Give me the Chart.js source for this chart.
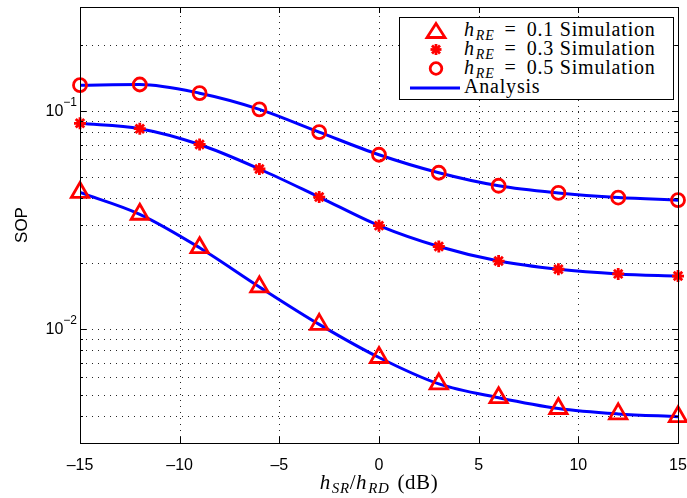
<!DOCTYPE html>
<html>
<head>
<meta charset="utf-8">
<script src="https://cdn.jsdelivr.net/npm/chart.js@4/dist/chart.umd.min.js"></script>
<style>
  body { margin: 0; background: #fff; }
  #wrap { position: relative; width: 687px; height: 498px; }
  .legend {
    position: absolute; left: 399px; top: 17px; width: 275px; height: 83px;
    border: 1px solid #000; background: #fff; box-sizing: border-box;
    font-family: "Liberation Serif", "DejaVu Serif", serif; font-size: 20px; color: #000;
  }
  .row { position: absolute; left: 0; height: 19px; line-height: 19px; width: 100%; }
  .row svg { position: absolute; left: 8px; top: 0; }
  .row span.txt { position: absolute; left: 64px; top: -1px; white-space: nowrap; letter-spacing: 0.8px; }
  .math i { font-style: italic; }
  .math sub { font-size: 14px; font-style: italic; vertical-align: -4px; line-height: 0; padding-left: 1px; }
  .math .op { margin: 0 10px 0 10px; }
  .xtitle {
    position: absolute; left: 80px; width: 598px; top: 470px; text-align: center;
    font-family: "Liberation Serif", "DejaVu Serif", serif; font-size: 21px; letter-spacing: 0.6px;
  }
  .xtitle sub { font-size: 15px; }
  .xtitle .gap { margin-left: 8px; }
</style>
</head>
<body>
<div id="wrap">
  <canvas id="sop-chart" width="687" height="498"></canvas>
  <div class="legend">
    <div class="row" style="top:3px">
      <svg width="56" height="19"><polygon points="28,2.5 37,16.5 19,16.5" fill="none" stroke="#ff0000" stroke-width="2.8"/></svg>
      <span class="txt math"><i>h</i><sub>RE</sub><span class="op">=</span>0.1 Simulation</span>
    </div>
    <div class="row" style="top:22px">
      <svg width="56" height="19"><g stroke="#ff0000" stroke-width="2.8"><line x1="22.5" y1="9.5" x2="33.5" y2="9.5"/><line x1="28" y1="4" x2="28" y2="15"/><line x1="24" y1="5.5" x2="32" y2="13.5"/><line x1="24" y1="13.5" x2="32" y2="5.5"/></g></svg>
      <span class="txt math"><i>h</i><sub>RE</sub><span class="op">=</span>0.3 Simulation</span>
    </div>
    <div class="row" style="top:41px">
      <svg width="56" height="19"><circle cx="28" cy="9.5" r="5.8" fill="none" stroke="#ff0000" stroke-width="2.8"/></svg>
      <span class="txt math"><i>h</i><sub>RE</sub><span class="op">=</span>0.5 Simulation</span>
    </div>
    <div class="row" style="top:60px">
      <svg width="56" height="19"><line x1="2" y1="10" x2="52" y2="10" stroke="#0000ff" stroke-width="3"/></svg>
      <span class="txt">Analysis</span>
    </div>
  </div>
  <div class="xtitle math"><i>h</i><sub>SR</sub>/<i>h</i><sub>RD</sub><span class="gap">(dB)</span></div>
</div>
<script>
"use strict";

// valeurs
const xValues = [-15, -12, -9, -6, -3, 0, 3, 6, 9, 12, 15];
const sopRe01 = [0.0423, 0.0336, 0.0236, 0.0156, 0.0105, 0.0074, 0.0056, 0.00484, 0.00432, 0.00408, 0.00396];
const sopRe03 = [0.0878, 0.083, 0.0702, 0.0542, 0.0403, 0.0298, 0.0239, 0.0205, 0.0188, 0.0179, 0.0175];
const sopRe05 = [0.1314, 0.1323, 0.1207, 0.1018, 0.08, 0.063, 0.0521, 0.0454, 0.0421, 0.0401, 0.039];

const xTicks = [-15, -10, -5, 0, 5, 10, 15];
const yTicks = [0.003, 0.004, 0.005, 0.006, 0.007, 0.008, 0.009,
  0.01, 0.02, 0.03, 0.04, 0.05, 0.06, 0.07, 0.08, 0.09, 0.1, 0.2, 0.3];
const yMajor = { 0.01: "\u22122", 0.1: "\u22121" };

const RED = "#ff0000";
const BLUE = "#0000ff";
const SANS = "'Liberation Sans', Arial, sans-serif";

function points(ys) {
  return xValues.map((x, i) => ({ x: x, y: ys[i] }));
}

function markers(ys, style, radius) {
  return {
    data: points(ys),
    showLine: false,
    clip: false,
    pointStyle: style,
    pointRadius: radius,
    pointBorderColor: RED,
    pointBackgroundColor: "rgba(0,0,0,0)",
    pointBorderWidth: 2.8,
  };
}

function analysis(ys) {
  return {
    data: points(ys),
    borderColor: BLUE,
    borderWidth: 3,
    pointRadius: 0,
    cubicInterpolationMode: "monotone",
  };
}

// grille pointillée (style matlab)
const gridPlugin = {
  id: "dotGrid",
  beforeDatasetsDraw(chart) {
    const { ctx, chartArea: a, scales } = chart;
    ctx.save();
    ctx.strokeStyle = "rgba(0,0,0,0.85)";
    ctx.lineWidth = 1;
    ctx.setLineDash([1, 5]);
    ctx.beginPath();
    xTicks.slice(1, -1).forEach((v) => {
      const px = Math.round(scales.x.getPixelForValue(v)) + 0.5;
      ctx.moveTo(px, a.bottom); ctx.lineTo(px, a.top);
    });
    yTicks.slice(1, -1).forEach((v) => {
      const py = Math.round(scales.y.getPixelForValue(v)) + 0.5;
      ctx.moveTo(a.left, py); ctx.lineTo(a.right, py);
    });
    ctx.stroke();
    ctx.restore();
  },
};

// cadre, graduations vers l'intérieur et étiquettes 10^n
const framePlugin = {
  id: "frame",
  afterDraw(chart) {
    const { ctx, chartArea: a, scales } = chart;
    ctx.save();
    ctx.strokeStyle = "#000";
    ctx.lineWidth = 1;
    ctx.beginPath();
    xTicks.forEach((v) => {
      const px = Math.round(scales.x.getPixelForValue(v)) + 0.5;
      ctx.moveTo(px, a.bottom); ctx.lineTo(px, a.bottom - 6);
      ctx.moveTo(px, a.top); ctx.lineTo(px, a.top + 6);
    });
    yTicks.forEach((v) => {
      const py = Math.round(scales.y.getPixelForValue(v)) + 0.5;
      const len = yMajor[v] ? 6 : 3;
      ctx.moveTo(a.left, py); ctx.lineTo(a.left + len, py);
      ctx.moveTo(a.right, py); ctx.lineTo(a.right - len, py);
    });
    ctx.stroke();
    ctx.strokeRect(Math.round(a.left) + 0.5, Math.round(a.top) + 0.5,
      Math.round(a.right - a.left), Math.round(a.bottom - a.top));

    ctx.fillStyle = "#000";
    ctx.textBaseline = "middle";
    ctx.textAlign = "right";
    Object.keys(yMajor).forEach((k) => {
      const py = scales.y.getPixelForValue(Number(k));
      const right = a.left - 3;
      ctx.font = "12px " + SANS;
      const w = ctx.measureText(yMajor[k]).width;
      ctx.fillText(yMajor[k], right, py - 8);
      ctx.font = "16px " + SANS;
      ctx.fillText("10", right - w, py + 1);
    });
    ctx.restore();
  },
};

new Chart(document.getElementById("sop-chart").getContext("2d"), {
  type: "line",
  data: {
    datasets: [
      markers(sopRe01, "triangle", 10),
      markers(sopRe03, "star", 6),
      markers(sopRe05, "circle", 6.5),
      analysis(sopRe01),
      analysis(sopRe03),
      analysis(sopRe05),
    ],
  },
  plugins: [gridPlugin, framePlugin],
  options: {
    responsive: false,
    animation: false,
    layout: { autoPadding: false, padding: { top: 7, right: 9, left: 0, bottom: 0 } },
    plugins: { legend: { display: false }, tooltip: { enabled: false } },
    scales: {
      x: {
        type: "linear",
        min: -15,
        max: 15,
        border: { display: false },
        grid: { display: false },
        afterBuildTicks: (s) => { s.ticks = xTicks.map((v) => ({ value: v })); },
        afterFit: (s) => {
          s.height = 55;
          s.paddingLeft = 0;
          s.paddingRight = 0;
        },
        ticks: {
          padding: 5,
          color: "#000",
          font: { family: SANS, size: 16 },
          callback: (v) => (v < 0 ? "\u2013" + Math.abs(v) : String(v)),
        },
      },
      y: {
        type: "logarithmic",
        min: 0.003,
        max: 0.3,
        border: { display: false },
        grid: { display: false },
        afterBuildTicks: (s) => { s.ticks = yTicks.map((v) => ({ value: v })); },
        afterFit: (s) => {
          s.width = 80;
          s.paddingTop = 0;
          s.paddingBottom = 0;
        },
        title: {
          display: true,
          text: "SOP",
          color: "#000",
          padding: { top: 12, bottom: 0 },
          font: { family: SANS, size: 17 },
        },
        ticks: {
          color: "#000",
          autoSkip: false,
          font: { family: SANS, size: 16 },
          callback: () => "",
        },
      },
    },
  },
});
</script>
</body>
</html>
